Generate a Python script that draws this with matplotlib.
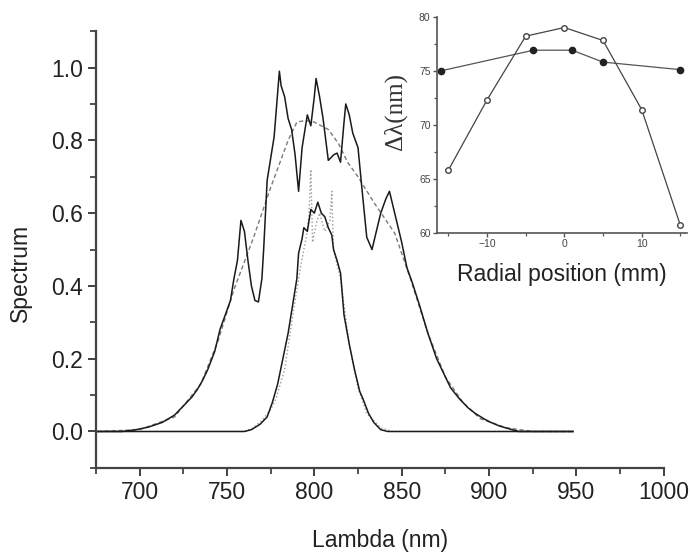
import matplotlib.pyplot as plt
from matplotlib.ticker import MultipleLocator

plt.rcParams['font.family'] = ['Liberation Sans', 'DejaVu Sans']

# ---------------------------------------------------------
# Datos
# ---------------------------------------------------------
# espectro ancho (medido, línea continua)
lam_ancho = [676, 690, 698, 705, 713, 720, 725, 730, 733, 736, 739, 743, 746, 749, 752, 754,
             756, 758, 760, 762, 764, 766, 768, 770, 771, 773, 775, 777, 779, 780, 781, 783,
             785, 787, 789, 791, 793, 796, 798, 800, 801, 803, 805, 808, 811, 813, 815, 817,
             818, 820, 822, 825, 827, 830, 833, 836, 838, 841, 843, 846, 850, 853, 856, 860,
             865, 870, 874, 878, 883, 888, 892, 897, 901, 906, 911, 917, 925, 935, 948]
esp_ancho = [0.0, 0.0, 0.005, 0.012, 0.025, 0.045, 0.07, 0.095, 0.115, 0.14, 0.17, 0.22, 0.28,
             0.32, 0.36, 0.42, 0.47, 0.58, 0.55, 0.47, 0.40, 0.36, 0.356, 0.42, 0.50, 0.69,
             0.75, 0.81, 0.93, 0.99, 0.95, 0.92, 0.86, 0.83, 0.76, 0.66, 0.78, 0.87, 0.84, 0.92,
             0.97, 0.92, 0.86, 0.745, 0.76, 0.765, 0.74, 0.85, 0.90, 0.87, 0.82, 0.78, 0.68,
             0.534, 0.50, 0.56, 0.60, 0.64, 0.66, 0.60, 0.52, 0.45, 0.41, 0.35, 0.27, 0.20,
             0.16, 0.12, 0.09, 0.065, 0.05, 0.035, 0.025, 0.015, 0.008, 0.0, 0.0, 0.0, 0.0]

# ajuste del espectro ancho (línea discontinua gris)
lam_ajuste = [676, 700, 720, 735, 745, 754, 765, 775, 785, 790, 795, 800, 808, 814, 819, 825,
              834, 846, 855, 865, 875, 885, 895, 910, 925, 948]
esp_ajuste = [0.0, 0.005, 0.04, 0.13, 0.25, 0.39, 0.53, 0.67, 0.80, 0.85, 0.855, 0.85, 0.83,
              0.79, 0.74, 0.70, 0.63, 0.545, 0.42, 0.27, 0.15, 0.08, 0.035, 0.01, 0.0, 0.0]

# espectro estrecho (medido, línea continua)
lam_estrecho = [676, 720, 760, 764, 769, 773, 776, 779, 782, 785, 788, 790, 791, 793, 794, 796,
                798, 800, 802, 804, 806, 808, 810, 811, 813, 815, 817, 820, 823, 826, 828, 831,
                834, 838, 842, 880, 948]
esp_estrecho = [0.0, 0.0, 0.0, 0.005, 0.02, 0.04, 0.08, 0.13, 0.20, 0.27, 0.36, 0.42, 0.49,
                0.53, 0.56, 0.55, 0.61, 0.60, 0.63, 0.60, 0.59, 0.56, 0.54, 0.50, 0.47, 0.435,
                0.32, 0.24, 0.17, 0.11, 0.088, 0.05, 0.025, 0.005, 0.0, 0.0, 0.0]

# ajuste del espectro estrecho (punteado gris)
lam_ajuste2 = [676, 760, 765, 770, 775, 778, 783, 788, 792, 796, 797, 798, 799, 801, 803, 806,
               809, 810, 811, 813, 815, 820, 825, 830, 838, 845, 948]
esp_ajuste2 = [0.0, 0.0, 0.01, 0.03, 0.06, 0.09, 0.17, 0.33, 0.45, 0.55, 0.60, 0.72, 0.52,
               0.57, 0.60, 0.55, 0.58, 0.66, 0.50, 0.46, 0.42, 0.24, 0.12, 0.05, 0.01, 0.0, 0.0]

# inset: anchura espectral frente a posición radial
pos_abierto = [-15, -10, -5, 0, 5, 10, 15]
dl_abierto = [65.8, 72.3, 78.2, 79.0, 77.8, 71.4, 60.7]
pos_lleno = [-15.9, -4, 1, 5, 15]
dl_lleno = [75.0, 76.9, 76.9, 75.8, 75.1]

# ---------------------------------------------------------
# Figura principal
# ---------------------------------------------------------
fig = plt.figure(figsize=(6.9, 5.57), dpi=100)
ax = fig.add_axes([0.139, 0.160, 0.823, 0.784])

ax.plot(lam_ajuste2, esp_ajuste2, color="#9a9a9a", lw=1.0, ls=":")
ax.plot(lam_ajuste, esp_ajuste, color="#7a7a7a", lw=1.0, ls=(0, (3, 2)))
ax.plot(lam_ancho, esp_ancho, color="#1a1a1a", lw=1.1)
ax.plot(lam_estrecho, esp_estrecho, color="#1a1a1a", lw=1.1)

ax.set_xlim(675, 1000)
ax.set_ylim(-0.1, 1.1)
ax.xaxis.set_major_locator(MultipleLocator(50))
ax.xaxis.set_minor_locator(MultipleLocator(25))
ax.set_yticks([0.0, 0.2, 0.4, 0.6, 0.8, 1.0])
ax.yaxis.set_minor_locator(MultipleLocator(0.1))
for s in ["top", "right"]:
    ax.spines[s].set_visible(False)
for s in ["left", "bottom"]:
    ax.spines[s].set_color("#444444")
    ax.spines[s].set_linewidth(1.6)
ax.tick_params(which="major", direction="out", length=6, width=1.3, labelsize=16.5,
               color="#333333", labelcolor="#222222")
ax.tick_params(which="minor", direction="out", length=4, width=1.2, color="#333333")
ax.set_xlabel("Lambda (nm)", fontsize=16.5, color="#222222")
ax.set_ylabel("Spectrum", fontsize=16.5, color="#222222")
ax.xaxis.set_label_coords(0.5, -0.14)
ax.yaxis.set_label_coords(-0.112, 0.446)

# ---------------------------------------------------------
# Inset
# ---------------------------------------------------------
axi = fig.add_axes([0.633, 0.582, 0.362, 0.388])
axi.patch.set_alpha(0)
axi.plot(pos_lleno, dl_lleno, color="#555555", lw=0.9, marker="o", ms=4.5,
         mfc="#222222", mec="#222222")
axi.plot(pos_abierto, dl_abierto, color="#444444", lw=0.9, marker="o", ms=4,
         mfc="white", mec="#444444")
axi.set_xlim(-16.5, 15.8)
axi.set_ylim(60, 80)
axi.set_xticks([-10, 0, 10])
axi.xaxis.set_minor_locator(MultipleLocator(5))
axi.set_yticks([60, 65, 70, 75, 80])
axi.yaxis.set_minor_locator(MultipleLocator(2.5))
for s in ["top", "right"]:
    axi.spines[s].set_visible(False)
for s in ["left", "bottom"]:
    axi.spines[s].set_color("#555555")
    axi.spines[s].set_linewidth(1.2)
axi.tick_params(which="major", direction="out", length=3, width=1.0, labelsize=7.5, pad=1.5,
                color="#555555", labelcolor="#444444")
axi.tick_params(which="minor", direction="out", length=2, width=0.9, color="#555555")
axi.set_xlabel("Radial position (mm)", fontsize=16.5, color="#222222")
axi.xaxis.set_label_coords(0.50, -0.14)
axi.set_ylabel("Δλ(nm)", fontsize=18, family=["Liberation Serif", "DejaVu Serif"],
               color="#333333")
axi.yaxis.set_label_coords(-0.12, 0.56)

fig.savefig("out.png", dpi=100)
